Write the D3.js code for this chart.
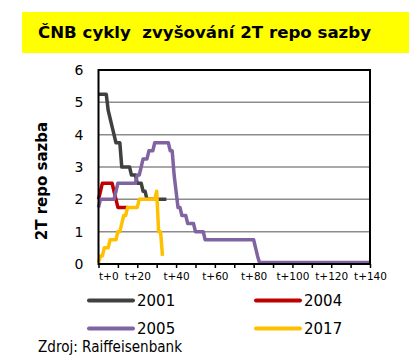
<!DOCTYPE html>
<meta charset="utf-8">
<script src="https://cdn.jsdelivr.net/npm/d3@7"></script>
<style>
	body { margin: 0; background: #fff; }
	text { font-family: "DejaVu Sans", sans-serif; }
</style>
<div id="vis"></div>
<script>
	// series as [t, rate] points (t = months from start)
	const s2001 = [[0, 5.25], [4, 5.25], [5, 4.75], [6, 4.5], [7, 4.25], [8, 4.0], [9, 3.75], [11, 3.75],
		[12, 3.0], [16, 3.0], [17, 2.75], [19, 2.75], [20, 2.5], [22, 2.5], [23, 2.25], [24, 2.25], [25, 2.0], [35, 2.0]]
	const s2004 = [[0, 2.0], [1, 2.25], [2, 2.5], [7, 2.5], [8, 2.25], [9, 2.0], [10, 1.75], [15, 1.75]]
	const s2005 = [[0, 1.75], [1, 2.0], [8, 2.0], [9, 2.25], [10, 2.5], [19, 2.5], [20, 2.75], [21, 2.75],
		[22, 3.0], [23, 3.25], [25, 3.25], [26, 3.5], [28, 3.5], [29, 3.75], [36, 3.75], [37, 3.5], [38, 3.5],
		[39, 2.75], [40, 2.25], [41, 1.75], [42, 1.75], [43, 1.5], [45, 1.5], [46, 1.25], [49, 1.25], [50, 1.0],
		[54, 1.0], [55, 0.75], [80, 0.75], [81, 0.5], [82, 0.25], [83, 0.05], [140, 0.05]]
	const s2017 = [[0, 0.05], [1, 0.25], [2, 0.25], [3, 0.5], [5, 0.5], [6, 0.75], [9, 0.75], [10, 1.0],
		[11, 1.0], [12, 1.25], [13, 1.5], [14, 1.5], [15, 1.75], [20, 1.75], [21, 2.0], [29, 2.0], [30, 2.25],
		[31, 1.0], [32, 1.0], [33, 0.25]]

	const seriesNames = ['2001', '2004', '2005', '2017']
	const seriesData = [s2001, s2004, s2005, s2017]
	const seriesColors = ['#404040', '#C00000', '#8064A2', '#FFC000']
	const xTicks = [0, 10, 20, 30, 40, 50, 60, 70, 80, 90, 100, 110, 120, 130, 140]
	const yTicks = [0, 1, 2, 3, 4, 5, 6]

	const width = 417, height = 364

	const svg = d3.select('#vis').append('svg')
		.attr('width', width)
		.attr('height', height)

	// title box
	svg.append('rect')
		.attr('x', 22).attr('y', 12)
		.attr('width', 387).attr('height', 41)
		.attr('fill', '#FFFF00')
	svg.append('text')
		.attr('x', 38).attr('y', 37.5)
		.attr('font-size', 15)
		.attr('font-weight', 'bold')
		.attr('textLength', 333)
		.attr('lengthAdjust', 'spacingAndGlyphs')
		.style('white-space', 'pre')
		.text('ČNB cykly  zvyšování 2T repo sazby')

	const x = d3.scaleLinear().domain([0, 140]).range([98.5, 370])
	const y = d3.scaleLinear().domain([0, 6]).range([264, 70])

	// gridlines
	svg.append('g')
		.selectAll('line').data(yTicks.filter(d => d > 0 && d < 6))
		.enter().append('line')
		.attr('x1', x(0)).attr('x2', x(140))
		.attr('y1', d => y(d)).attr('y2', d => y(d))
		.attr('stroke', '#8c8c8c')
		.attr('stroke-width', 1.5)

	// series
	const line = d3.line()
		.x(d => x(d[0]))
		.y(d => y(d[1]))

	svg.append('g')
		.selectAll('path').data(seriesData)
		.enter().append('path')
		.attr('d', line)
		.attr('fill', 'none')
		.attr('stroke', (d, i) => seriesColors[i])
		.attr('stroke-width', 3.5)
		.attr('stroke-linejoin', 'round')

	// plot border
	svg.append('rect')
		.attr('x', x(0)).attr('y', y(6))
		.attr('width', x(140) - x(0)).attr('height', y(0) - y(6))
		.attr('fill', 'none')
		.attr('stroke', '#000')
		.attr('stroke-width', 2)

	// y axis
	const yAxis = svg.append('g')
		.attr('transform', `translate(${x(0)},0)`)
		.call(d3.axisLeft(y).tickValues(yTicks).tickSize(0).tickPadding(15).tickFormat(d3.format('d')))
	yAxis.select('.domain').remove()
	yAxis.selectAll('text')
		.attr('font-size', 14)
		.attr('fill', '#000')
		.style('font-family', '"DejaVu Sans", sans-serif')

	// x axis
	const xAxis = svg.append('g')
		.attr('transform', `translate(0,${y(0)})`)
		.call(d3.axisBottom(x).tickValues(xTicks).tickSize(4).tickPadding(5)
			.tickFormat(d => d % 20 == 0 ? 't+' + d : ''))
	xAxis.select('.domain').remove()
	xAxis.selectAll('line').attr('stroke', '#000').attr('stroke-width', 1.5)
	xAxis.selectAll('text')
		.attr('font-size', 10.5)
		.attr('fill', '#000')
		.style('font-family', '"DejaVu Sans", sans-serif')
		.attr('text-anchor', d => d == 0 ? 'start' : 'middle')

	// y label
	svg.append('text')
		.attr('transform', 'translate(47,181) rotate(-90)')
		.attr('text-anchor', 'middle')
		.attr('font-size', 15)
		.attr('font-weight', 'bold')
		.text('2T repo sazba')

	// legend
	const legendPos = [[89, 300.5], [256, 300.5], [89, 328.5], [256, 328.5]]
	const lg = svg.append('g')
		.selectAll('g').data(seriesNames)
		.enter().append('g')
		.attr('transform', (d, i) => `translate(${legendPos[i][0]},${legendPos[i][1]})`)
	lg.append('line')
		.attr('x1', 0).attr('x2', 44)
		.attr('stroke', (d, i) => seriesColors[i])
		.attr('stroke-width', 4)
		.attr('stroke-linecap', 'round')
	lg.append('text')
		.attr('x', 48).attr('y', 5.5)
		.attr('font-size', 15)
		.text(d => d)

	// source
	svg.append('text')
		.attr('x', 38).attr('y', 352)
		.attr('font-size', 15)
		.attr('textLength', 144)
		.attr('lengthAdjust', 'spacingAndGlyphs')
		.text('Zdroj: Raiffeisenbank')
</script>
